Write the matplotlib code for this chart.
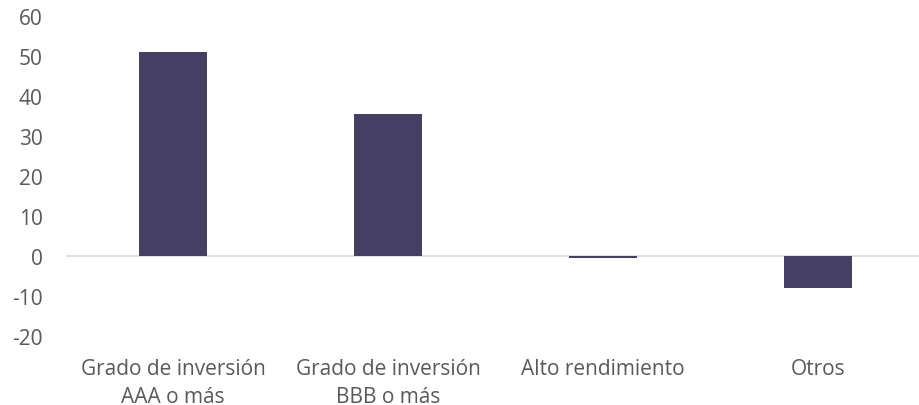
import matplotlib
matplotlib.use("Agg")
import matplotlib.pyplot as plt

categories = ["Grado de inversión\nAAA o más", "Grado de inversión\nBBB o más",
              "Alto rendimiento", "Otros"]
values = [51.0, 35.7, -0.3, -7.8]
yticks = [-20, -10, 0, 10, 20, 30, 40, 50, 60]

plt.rcParams["font.family"] = ["Open Sans", "DejaVu Sans"]

W, H, DPI = 919, 406, 100
fig = plt.figure(figsize=(W / DPI, H / DPI), dpi=DPI)
left, right = 65.5, 925.5
top, bottom = 17.3, 337.3
ax = fig.add_axes([left / W, 1 - bottom / H, (right - left) / W, (bottom - top) / H])

x = range(len(categories))
ax.bar(x, values, width=0.313, color="#453f63", zorder=3)
ax.axhline(0, color="#d9d9d9", linewidth=1.2, zorder=2)

ax.set_xlim(-0.5, len(categories) - 0.5)
ax.set_ylim(-20, 60)
ax.set_yticks(yticks)
ax.set_yticklabels([str(v) for v in yticks])
ax.set_xticks(list(x))
ax.set_xticklabels(categories, linespacing=1.42)

for s in ax.spines.values():
    s.set_visible(False)
ax.tick_params(axis="both", length=0, labelsize=15, colors="#595959")
ax.tick_params(axis="y", pad=16.5)
ax.tick_params(axis="x", pad=15.5)

fig.savefig("out.png", dpi=DPI)
